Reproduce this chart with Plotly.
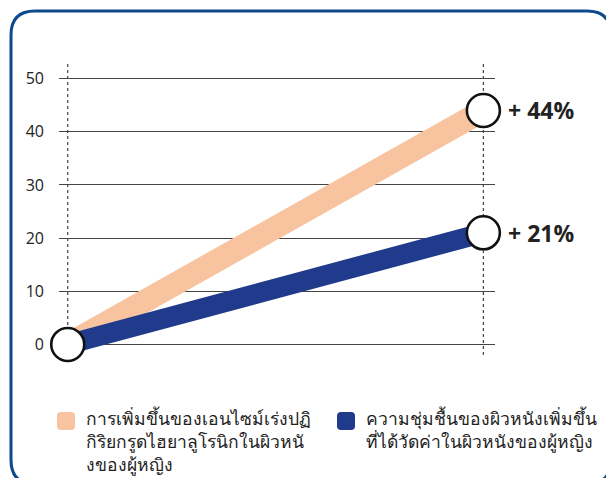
import plotly.graph_objects as go

# ---- data ----
x_points = [0, 1]
enzyme_values = [0, 44]
moisture_values = [0, 21]
end_labels = ["+ 44%", "+ 21%"]
y_ticks = [0, 10, 20, 30, 40, 50]
legend_labels = [
    "การเพิ่มขึ้นของเอนไซม์เร่งปฏิ<br>กิริยกรูดไฮยาลูโรนิกในผิวหนั<br>งของผู้หญิง",
    "ความชุ่มชื้นของผิวหนังเพิ่มขึ้น<br>ที่ได้วัดค่าในผิวหนังของผู้หญิง",
]
colors = ["#f8c4a0", "#203a8c"]

# page body has an 8px margin; work in window pixels and convert
OFF = 8
W, H = 614 - OFF, 478 - OFF
def px(x):
    return (x - OFF) / W
def py(y):
    return 1 - (y - OFF) / H

fig = go.Figure()

fig.add_trace(go.Scatter(x=x_points, y=enzyme_values, mode="lines",
                         line=dict(color=colors[0], width=23), showlegend=False,
                         hoverinfo="skip"))
fig.add_trace(go.Scatter(x=x_points, y=moisture_values, mode="lines",
                         line=dict(color=colors[1], width=20), showlegend=False,
                         hoverinfo="skip"))
fig.add_trace(go.Scatter(x=[x_points[0], x_points[1], x_points[1]],
                         y=[enzyme_values[0], enzyme_values[1], moisture_values[1]],
                         mode="markers",
                         marker=dict(size=33, color="white",
                                     line=dict(color="#111111", width=2.6)),
                         showlegend=False, hoverinfo="skip", cliponaxis=False))

# dotted verticals
for xv in x_points:
    fig.add_shape(type="line", xref="x", yref="y", x0=xv, x1=xv, y0=-2, y1=52.9,
                  line=dict(color="#444444", width=1.2, dash="dot"), layer="below")

# end labels
for yv, txt in zip([enzyme_values[1], moisture_values[1]], end_labels):
    fig.add_annotation(x=1, y=yv, xref="x", yref="y", text=f"<b>{txt}</b>",
                       showarrow=False, xanchor="left", xshift=23,
                       font=dict(family="Open Sans", size=23, color="#222222"))

# legend (manual)
leg_x = [57, 337]
for i, (lx, lab) in enumerate(zip(leg_x, legend_labels)):
    x0, x1, y0, y1 = lx, lx + 18, 412, 430
    r = 4
    path = (f"M {px(x0+r)},{py(y0)} L {px(x1-r)},{py(y0)} Q {px(x1)},{py(y0)} {px(x1)},{py(y0+r)} "
            f"L {px(x1)},{py(y1-r)} Q {px(x1)},{py(y1)} {px(x1-r)},{py(y1)} "
            f"L {px(x0+r)},{py(y1)} Q {px(x0)},{py(y1)} {px(x0)},{py(y1-r)} "
            f"L {px(x0)},{py(y0+r)} Q {px(x0)},{py(y0)} {px(x0+r)},{py(y0)} Z")
    fig.add_shape(type="path", xref="paper", yref="paper", path=path,
                  fillcolor=colors[i], line=dict(width=0))
    fig.add_annotation(x=px(lx + 27), y=py(404), xref="paper", yref="paper",
                       text=lab, showarrow=False, xanchor="left", yanchor="top",
                       align="left",
                       font=dict(family="Noto Sans, DejaVu Sans", size=17.5, color="#222222"))

# rounded border
bx0, bx1, by0, by1, R = 11, 611, 11, 484, 24
border = (f"M {px(bx0+R)},{py(by0)} L {px(bx1-R)},{py(by0)} Q {px(bx1)},{py(by0)} {px(bx1)},{py(by0+R)} "
          f"L {px(bx1)},{py(by1-R)} Q {px(bx1)},{py(by1)} {px(bx1-R)},{py(by1)} "
          f"L {px(bx0+R)},{py(by1)} Q {px(bx0)},{py(by1)} {px(bx0)},{py(by1-R)} "
          f"L {px(bx0)},{py(by0+R)} Q {px(bx0)},{py(by0)} {px(bx0+R)},{py(by0)} Z")
fig.add_shape(type="path", xref="paper", yref="paper", path=border,
              line=dict(color="#0d4a8c", width=3), fillcolor="rgba(0,0,0,0)")

fig.update_layout(
    width=W, height=H,
    margin=dict(l=0, r=0, t=0, b=0),
    paper_bgcolor="white", plot_bgcolor="white",
    showlegend=False,
    xaxis=dict(domain=[px(59), px(495)], range=[-0.021, 1.028], showgrid=False,
               zeroline=False, showticklabels=False, fixedrange=True),
    yaxis=dict(domain=[py(387), py(52)], range=[-8, 55], tickvals=y_ticks,
               showgrid=True, gridcolor="#444444", gridwidth=1.2, zeroline=False,
               ticklabelstandoff=14,
               tickfont=dict(family="Open Sans", size=16, color="#222222")),
)

fig.write_html("out.html")
